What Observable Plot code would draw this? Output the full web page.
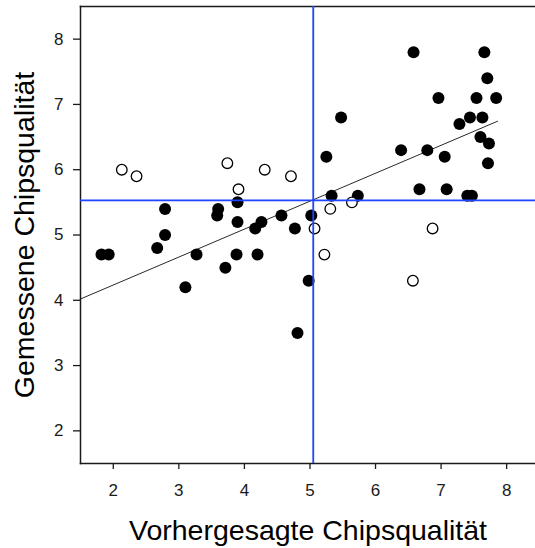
<!DOCTYPE html>
<html>
<head>
<meta charset="utf-8">
<script src="https://cdn.jsdelivr.net/npm/d3@7"></script>
<script src="https://cdn.jsdelivr.net/npm/@observablehq/plot@0.6"></script>
<style>
  html, body { margin: 0; padding: 0; background: #fff; }
  #chart svg { display: block; }
</style>
</head>
<body>
<div id="chart"></div>
<script>
// Predicted vs. measured chip quality; filled = fitted cases, open = other cases
const predictedFilled = [1.82, 1.93, 2.67, 2.79, 2.79, 3.27, 3.10, 3.60, 3.585, 3.895, 3.895, 3.71, 3.88, 4.20, 4.26, 4.165, 4.565, 4.77, 4.81, 4.98, 5.02, 5.33, 5.25, 5.475, 5.73, 6.39, 6.58, 6.67, 6.79, 6.96, 7.055, 7.085, 7.28, 7.40, 7.47, 7.44, 7.54, 7.60, 7.63, 7.66, 7.705, 7.73, 7.715, 7.84];
const measuredFilled  = [4.7, 4.7, 4.8, 5.0, 5.4, 4.7, 4.2, 5.4, 5.3, 5.5, 5.2, 4.5, 4.7, 4.7, 5.2, 5.1, 5.3, 5.1, 3.5, 4.3, 5.3, 5.6, 6.2, 6.8, 5.6, 6.3, 7.8, 5.7, 6.3, 7.1, 6.2, 5.7, 6.7, 5.6, 5.6, 6.8, 7.1, 6.5, 6.8, 7.8, 7.4, 6.4, 6.1, 7.1];
const predictedOpen = [2.13, 2.355, 3.74, 3.91, 4.31, 4.71, 5.07, 5.31, 5.64, 5.22, 6.87, 6.57];
const measuredOpen  = [6.0, 5.9, 6.1, 5.7, 6.0, 5.9, 5.1, 5.4, 5.5, 4.7, 5.1, 4.3];

const xTicks = [2, 3, 4, 5, 6, 7, 8];
const yTicks = [2, 3, 4, 5, 6, 7, 8];

// Reference lines (means) and the least-squares fit
const meanPredicted = 5.05;
const meanMeasured = 5.53;
const fitRange = [1.5, 7.86];
const fitIntercept = 3.378;
const fitSlope = 0.428;

const filled = predictedFilled.map((x, i) => ({x, y: measuredFilled[i]}));
const open = predictedOpen.map((x, i) => ({x, y: measuredOpen[i]}));
const fit = fitRange.map(x => ({x, y: fitIntercept + fitSlope * x}));

const axisColor = "#1a1a1a";
const blue = "#1f45ff";

const chart = Plot.plot({
  width: 535,
  height: 548,
  marginLeft: 80,
  marginRight: 0,
  marginTop: 6,
  marginBottom: 85,
  style: {fontFamily: "'Liberation Sans', Arial, sans-serif", color: axisColor, background: "#fff"},
  x: {domain: [1.5, 8.44]},
  y: {domain: [1.5, 8.5]},
  marks: [
    Plot.frame({anchor: "top", stroke: axisColor, strokeWidth: 1.5}),
    Plot.frame({anchor: "left", stroke: axisColor, strokeWidth: 1.5}),
    Plot.frame({anchor: "bottom", stroke: axisColor, strokeWidth: 1.5}),
    Plot.axisX({ticks: xTicks, tickFormat: d => String(d), tickSize: 6, tickPadding: 14, fontSize: 17, label: null, strokeWidth: 1.3}),
    Plot.axisY({ticks: yTicks, tickFormat: d => String(d), tickSize: 7, tickPadding: 10, fontSize: 17, label: null, strokeWidth: 1.3}),
    Plot.line(fit, {x: "x", y: "y", stroke: "#111", strokeWidth: 0.9}),
    Plot.dot(filled, {x: "x", y: "y", r: 6, fill: "black", stroke: "none"}),
    Plot.dot(open, {x: "x", y: "y", r: 5.3, fill: "white", stroke: "black", strokeWidth: 1.3}),
    Plot.ruleX([meanPredicted], {stroke: blue, strokeWidth: 1.8}),
    Plot.ruleY([meanMeasured], {stroke: blue, strokeWidth: 1.8}),
    Plot.text(["Vorhergesagte Chipsqualität"], {frameAnchor: "bottom", textAnchor: "middle", lineAnchor: "middle", dy: 67, fontSize: 28.5, fill: "black"}),
    Plot.text(["Gemessene Chipsqualität"], {frameAnchor: "left", textAnchor: "middle", lineAnchor: "middle", dx: -56, rotate: -90, fontSize: 28.5, fill: "black"})
  ]
});

document.getElementById("chart").appendChild(chart);
</script>
</body>
</html>
